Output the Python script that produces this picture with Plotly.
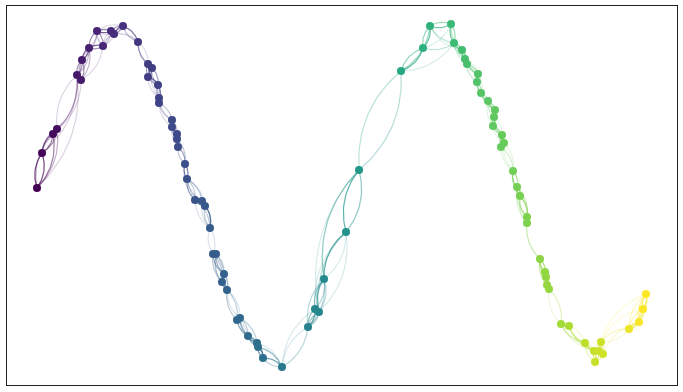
import numpy as np
import plotly.graph_objects as go
from plotly.colors import sample_colorscale

# Node positions (in plot units)
node_x = [37, 42, 53, 57, 77, 81, 82, 89, 103, 97, 111, 114, 123, 138, 148, 152, 148, 158, 159, 159,
          172, 172, 177, 177, 178, 185, 187, 195, 202, 205, 210, 213, 216, 224, 222, 227, 237, 240, 248, 257,
          258, 263, 282, 308, 315, 319, 324, 346, 359, 401, 423, 430, 451, 454, 462, 465, 467, 478, 477, 481,
          488, 495, 494, 493, 502, 504, 501, 513, 517, 520, 527, 527, 540, 545, 546, 547, 549, 561, 569, 585,
          601, 594, 599, 603, 595, 629, 639, 643, 646]
node_y = [188, 153, 134, 129, 75, 80, 60, 48, 46, 31, 31, 34, 26, 42, 64, 68, 77, 85, 98, 103,
          120, 127, 134, 139, 147, 164, 179, 200, 201, 206, 228, 254, 254, 274, 282, 290, 320, 318, 336, 343,
          347, 358, 367, 327, 309, 312, 279, 232, 170, 71, 48, 26, 24, 43, 50, 59, 64, 74, 82, 93,
          101, 110, 117, 126, 135, 143, 147, 171, 187, 196, 217, 223, 259, 272, 277, 285, 289, 324, 326, 343,
          342, 351, 351, 354, 362, 329, 322, 309, 294]

# Directed neighbour lists (out-edges of each node, nearest first)
neighbors = [
    [1, 2, 3, 4], [0, 2, 3, 4], [3, 1, 0, 4], [2, 1, 4, 5], [5, 6, 7, 3],
    [4, 6, 7, 8], [7, 4, 5, 9], [6, 8, 9, 5], [7, 9, 10, 11], [10, 7, 8, 11],
    [11, 9, 12, 8], [10, 12, 8, 9], [11, 10, 13, 9], [12, 14, 11, 15], [15, 16, 17, 13],
    [14, 16, 17, 18], [15, 14, 17, 18], [16, 15, 18, 19], [19, 17, 16, 20], [18, 17, 20, 21],
    [21, 22, 19, 23], [20, 22, 23, 24], [23, 21, 24, 20], [22, 24, 21, 20], [23, 22, 25, 21],
    [26, 24, 23, 27], [25, 27, 28, 29], [28, 29, 26, 30], [27, 29, 26, 30], [28, 27, 30, 26],
    [29, 28, 27, 31], [32, 33, 34, 30], [31, 33, 34, 35], [34, 35, 32, 31], [33, 35, 31, 32],
    [34, 33, 36, 37], [37, 38, 35, 39], [36, 38, 39, 35], [39, 40, 37, 36], [40, 38, 41, 37],
    [39, 41, 38, 37], [40, 39, 42, 38], [41, 40, 43, 39], [44, 45, 46, 42], [45, 43, 46, 42],
    [44, 43, 46, 47], [45, 44, 43, 47], [46, 48, 45, 44], [47, 46, 49, 45], [50, 51, 48, 53],
    [51, 49, 53, 52], [52, 50, 53, 54], [53, 51, 54, 55], [54, 52, 55, 56], [55, 53, 56, 57],
    [56, 54, 57, 58], [55, 54, 57, 58], [58, 56, 59, 55], [57, 59, 56, 60], [60, 58, 61, 57],
    [61, 59, 62, 63], [62, 60, 63, 64], [61, 63, 60, 64], [62, 64, 61, 65], [65, 66, 63, 62],
    [66, 64, 63, 67], [65, 64, 63, 67], [68, 69, 66, 65], [69, 67, 70, 71], [68, 70, 71, 67],
    [71, 69, 68, 72], [70, 69, 72, 68], [73, 74, 75, 76], [74, 72, 75, 76], [73, 75, 76, 72],
    [76, 74, 73, 72], [75, 74, 73, 77], [78, 79, 76, 81], [77, 79, 81, 82], [81, 82, 84, 78],
    [82, 83, 81, 85], [82, 84, 79, 83], [81, 83, 80, 84], [82, 80, 81, 84], [81, 82, 83, 79],
    [86, 87, 80, 88], [85, 87, 88, 83], [88, 86, 85, 80], [87, 86, 85, 80],
]

rank_alpha = [0.72, 0.5, 0.32, 0.18]
curvature = 0.25

xmin, xmax = min(node_x), max(node_x)
fracs = [(x - xmin) / (xmax - xmin) for x in node_x]
cols = sample_colorscale("Viridis", fracs, colortype="rgb")


def rgba(c, a):
    v = c[c.index("(") + 1:c.index(")")].split(",")
    return "rgba(%d,%d,%d,%.3f)" % (round(float(v[0])), round(float(v[1])), round(float(v[2])), a)


fig = go.Figure()
t = np.linspace(0, 1, 24)
for i, nbrs in enumerate(neighbors):
    for r, j in enumerate(nbrs):
        x1, y1, x2, y2 = node_x[i], node_y[i], node_x[j], node_y[j]
        mx, my = (x1 + x2) / 2, (y1 + y2) / 2
        cx, cy = mx - curvature * (y2 - y1), my + curvature * (x2 - x1)
        bx = (1 - t) ** 2 * x1 + 2 * (1 - t) * t * cx + t ** 2 * x2
        by = (1 - t) ** 2 * y1 + 2 * (1 - t) * t * cy + t ** 2 * y2
        fig.add_trace(go.Scatter(x=bx, y=by, mode="lines",
                                 line=dict(color=rgba(cols[i], rank_alpha[r]), width=1.2),
                                 hoverinfo="skip", showlegend=False))

fig.add_trace(go.Scatter(x=node_x, y=node_y, mode="markers",
                         marker=dict(size=8, color=cols, line=dict(width=0)),
                         showlegend=False))

fig.update_layout(
    width=683, height=392,
    margin=dict(l=7, r=6, t=6, b=7),
    paper_bgcolor="white", plot_bgcolor="white",
)
fig.update_xaxes(range=[7, 677], showgrid=False, zeroline=False, showticklabels=False, ticks="",
                 showline=True, mirror=True, linecolor="#222", linewidth=1.3)
fig.update_yaxes(range=[385, 6], showgrid=False, zeroline=False, showticklabels=False, ticks="",
                 showline=True, mirror=True, linecolor="#222", linewidth=1.3)

fig.write_html("out.html")
